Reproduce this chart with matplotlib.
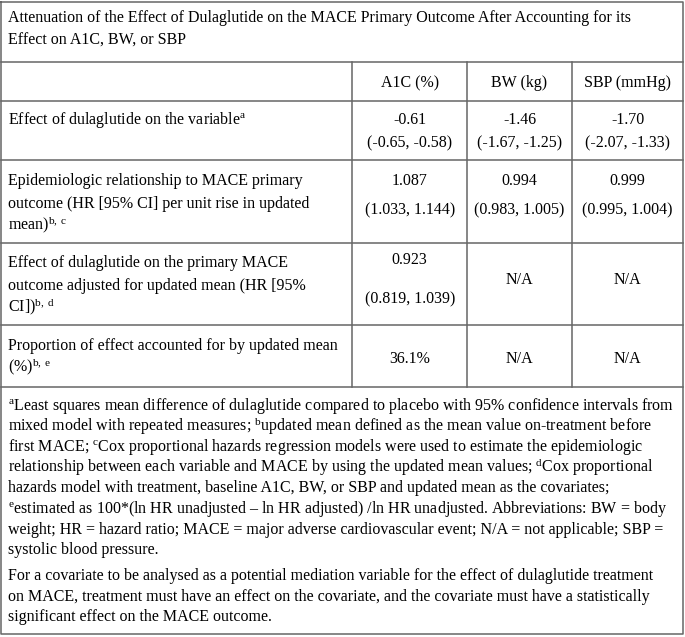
import matplotlib
matplotlib.use("Agg")
import matplotlib.pyplot as plt

plt.rcParams['font.family'] = ['Liberation Serif', 'DejaVu Serif']
plt.rcParams['mathtext.fontset'] = 'custom'
plt.rcParams['mathtext.rm'] = 'Liberation Serif'
plt.rcParams['mathtext.it'] = 'Liberation Serif:italic'

# table data
title = ["Attenuation of the Effect of Dulaglutide on the MACE Primary Outcome After Accounting for its",
         "Effect on A1C, BW, or SBP"]
columns = ["A1C (%)", "BW (kg)", "SBP (mmHg)"]
row_labels = [
    ["Effect of dulaglutide on the variable$^{\\mathrm{a}}$"],
    ["Epidemiologic relationship to MACE primary",
     "outcome (HR [95% CI] per unit rise in updated",
     "mean)$^{\\mathrm{b,\\ c}}$"],
    ["Effect of dulaglutide on the primary MACE",
     "outcome adjusted for updated mean (HR [95%",
     "CI])$^{\\mathrm{b,\\ d}}$"],
    ["Proportion of effect accounted for by updated mean",
     "(%)$^{\\mathrm{b,\\ e}}$"],
]
effect_var = ["-0.61", "-1.46", "-1.70"]
effect_var_ci = ["(-0.65, -0.58)", "(-1.67, -1.25)", "(-2.07, -1.33)"]
epi_hr = ["1.087", "0.994", "0.999"]
epi_hr_ci = ["(1.033, 1.144)", "(0.983, 1.005)", "(0.995, 1.004)"]
adj_hr = ["0.923", "N/A", "N/A"]
adj_hr_ci = ["(0.819, 1.039)", "", ""]
proportion = ["36.1%", "N/A", "N/A"]

footnotes = [
    "$^{\\mathrm{a}}$Least squares mean difference of dulaglutide compared to placebo with 95% confidence intervals from",
    "mixed model with repeated measures; $^{\\mathrm{b}}$updated mean defined as the mean value on-treatment before",
    "first MACE; $^{\\mathrm{c}}$Cox proportional hazards regression models were used to estimate the epidemiologic",
    "relationship between each variable and MACE by using the updated mean values; $^{\\mathrm{d}}$Cox proportional",
    "hazards model with treatment, baseline A1C, BW, or SBP and updated mean as the covariates;",
    "$^{\\mathrm{e}}$estimated as 100*(ln HR unadjusted \u2013 ln HR adjusted) /ln HR unadjusted. Abbreviations: BW = body",
    "weight; HR = hazard ratio; MACE = major adverse cardiovascular event; N/A = not applicable; SBP =",
    "systolic blood pressure.",
]
note = ["For a covariate to be analysed as a potential mediation variable for the effect of dulaglutide treatment",
        "on MACE, treatment must have an effect on the covariate, and the covariate must have a statistically",
        "significant effect on the MACE outcome."]

fig = plt.figure(figsize=(6.85, 6.37), dpi=100)
ax = fig.add_axes([0, 0, 1, 1])
ax.set_xlim(0, 685)
ax.set_ylim(637, 0)
ax.axis('off')

fs = 11.55
lc = '#666666'
lw = 1.1
col_x = [1.5, 352.5, 467, 572, 683.5]
row_y = [62, 101, 160, 243, 325, 387]
top, bottom = 1.5, 634

# borders
ax.plot([col_x[0], col_x[-1], col_x[-1], col_x[0], col_x[0]], [top, top, bottom, bottom, top], color=lc, lw=lw)
for y in row_y:
    ax.plot([col_x[0], col_x[-1]], [y, y], color=lc, lw=lw)
for x in col_x[1:-1]:
    ax.plot([x, x], [row_y[0], row_y[-1]], color=lc, lw=lw)

def txt(x, y, s, ha='left'):
    ax.text(x, y, s, fontsize=fs, ha=ha, va='baseline', color='black')

step = 22.6
for i, line in enumerate(title):
    txt(8, 22 + i * step, line)

centers = [(col_x[i + 1] + col_x[i + 2]) / 2 for i in range(3)]
for c, name in zip(centers, columns):
    txt(c, 87, name, ha='center')

# left labels
label_start = [124, 185, 267, 350]
for start, lines in zip(label_start, row_labels):
    for j, line in enumerate(lines):
        txt(8, start + j * step, line)

for c, a, b in zip(centers, effect_var, effect_var_ci):
    txt(c, 124, a, ha='center')
    txt(c, 147, b, ha='center')
for c, a, b in zip(centers, epi_hr, epi_hr_ci):
    txt(c, 185, a, ha='center')
    txt(c, 214, b, ha='center')
for c, a, b in zip(centers, adj_hr, adj_hr_ci):
    if b:
        txt(c, 264, a, ha='center')
        txt(c, 303, b, ha='center')
    else:
        txt(c, 284, a, ha='center')
for c, a in zip(centers, proportion):
    txt(c, 363, a, ha='center')

fstep = 20.6
for i, line in enumerate(footnotes):
    txt(8, 410 + i * fstep, line)
for i, line in enumerate(note):
    txt(8, 580 + i * fstep, line)

fig.savefig("out.png", dpi=100, facecolor='white')
